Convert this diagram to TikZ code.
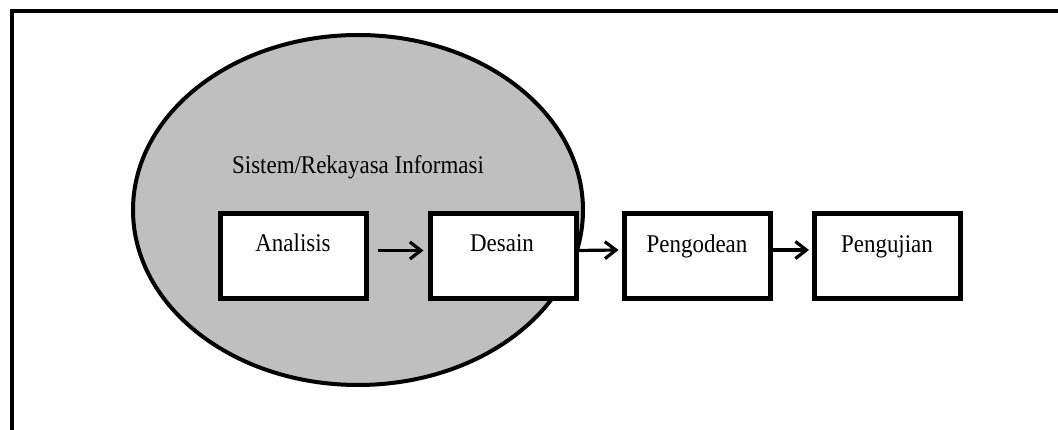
\documentclass[tikz,border=0pt]{standalone}
\usepackage{fontspec}
\setmainfont{Liberation Serif}[FakeStretch=0.9]
\usetikzlibrary{arrows.meta,shapes.geometric}
\begin{document}
\begin{tikzpicture}[x=1pt,y=-1pt,
  stage/.style={draw=black, line width=5pt, fill=white, minimum width=146pt, minimum height=85pt, inner sep=0pt},
  lbl/.style={anchor=base, inner sep=0pt, font=\fontsize{25.5}{30}\selectfont},
  flow/.style={line width=3.2pt, -{Straight Barb[length=11pt,width=17pt,line width=3.2pt]}}]
\useasboundingbox (0,0) rectangle (1058,430);
\draw[line width=4.5pt] (12,440) -- (12,11) -- (1070,11);
\node[draw=black, line width=4pt, fill=black!25, ellipse, minimum width=450pt, minimum height=350pt, inner sep=0pt] (sys) at (358,210) {};
\node[lbl] (systxt) at (358,174) {Sistem/Rekayasa Informasi};
\node[stage] (an) at (293,256.5) {};
\node[stage] (de) at (503,256.5) {};
\node[stage] (pe) at (697,256) {};
\node[stage] (pu) at (887.5,256) {};
\node[lbl] (antxt) at (293,252) {Analisis};
\node[lbl] (detxt) at (502,252) {Desain};
\node[lbl] (petxt) at (697,252.5) {Pengodean};
\node[lbl] (putxt) at (887,252.5) {Pengujian};
\draw[flow] ([xshift=9pt,yshift=6pt]an.east) -- ([xshift=-4pt,yshift=6pt]de.west);
\draw[flow] ([xshift=-3pt,yshift=6pt]de.east) -- ([xshift=-3pt,yshift=6pt]pe.west);
\draw[flow] ([xshift=-3pt,yshift=6pt]pe.east) -- ([xshift=-3pt,yshift=6pt]pu.west);
\end{tikzpicture}
\end{document}
